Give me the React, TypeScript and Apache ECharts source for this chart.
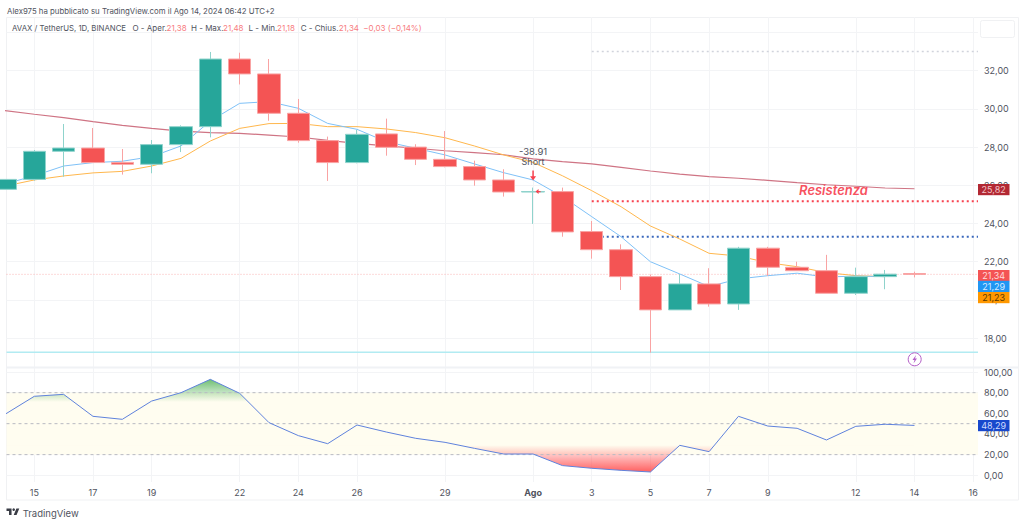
import React, { useEffect, useRef } from "react";
import * as echarts from "echarts";

const FONT = "Inter, 'Liberation Sans', sans-serif";
const RED = "#f45454";
const GREEN = "#26a69a";

// day offsets: 0 = 15 Jul
const days = [-1,0,1,2,3,4,5,6,7,8,9,10,11,12,13,14,15,16,17,18,19,20,21,22,23,24,25,26,27,28,29,30];
const open = [25.79,26.31,27.78,27.95,27.2,27.1,28.13,29.07,32.61,31.83,29.77,28.34,27.19,28.69,28.0,27.36,26.98,26.28,25.65,25.67,23.58,22.63,21.22,19.48,20.84,19.79,22.71,21.71,21.53,20.35,21.22,21.38];
const close = [26.31,27.78,27.95,27.19,27.1,28.13,29.07,32.61,31.83,29.77,28.34,27.19,28.67,27.99,27.36,26.98,26.28,25.65,25.67,23.56,22.63,21.22,19.48,20.84,19.79,22.71,21.71,21.53,20.35,21.22,21.35,21.34];
const low = [25.79,26.24,26.45,27.19,26.56,26.63,27.74,28.51,31.28,29.38,28.23,26.23,27.15,27.55,27.06,26.94,25.98,25.41,23.98,23.31,22.16,20.52,17.24,19.48,19.65,19.48,21.26,21.53,20.35,20.26,20.56,21.18];
const high = [26.31,27.85,29.21,29.0,27.9,28.37,29.14,32.98,32.94,32.61,30.52,28.55,28.9,29.49,28.15,28.84,27.29,26.84,25.88,25.88,24.13,22.91,21.33,21.36,21.66,22.78,22.78,22.0,22.36,21.69,21.57,21.48];

const emaFast = [26.07,26.5,27.01,27.19,27.26,27.5,28.06,29.37,30.29,30.38,30.03,29.24,28.93,28.28,27.94,27.59,27.12,26.66,26.28,25.41,24.36,23.31,22.0,21.36,20.7,21.1,21.27,21.4,21.2,21.25,21.22];
const emaSlow = [25.96,26.28,26.49,26.65,26.73,27.01,27.41,28.32,28.98,29.23,29.24,29.07,29.07,28.95,28.76,28.49,28.06,27.59,27.2,26.5,25.72,24.88,23.87,23.19,22.44,22.3,21.95,21.74,21.43,21.27,21.22];
const maLong = [29.91,29.72,29.54,29.33,29.14,28.98,28.84,28.76,28.72,28.63,28.53,28.35,28.2,28.06,27.94,27.81,27.71,27.6,27.38,27.24,27.12,26.94,26.75,26.59,26.45,26.37,26.26,26.14,26.03,25.95,25.86,25.82];
const rsi = [59,76.5,78.4,57.1,54.2,71.9,80,92.9,79.4,51,38.4,30.6,48.7,41.9,35.8,31.9,26.1,20.6,20.6,9.4,6.8,4.8,3.2,29,22.9,57.1,47.7,45.5,34.2,47.4,49.4,48.29];

const xTickDays = [0,2,4,7,9,11,14,17,19,21,23,25,28,30,32];
const xTickLabels = ["15","17","19","22","24","26","29","Ago","3","5","7","9","12","14","16"];
const priceLabels = [18,20,22,24,26,28,30,32];
const priceGrid = [18,20,22,24,26,28,30,32,34];
const rsiLabels = [0,20,40,60,80,100];

const X_MIN = -0.9475;
const X_MAX = 32.165;

const lowSupport = 17.26;
const greyLevel = 33.01;
const redLevel = 25.17;
const blueLevel = 23.31;
const lastPrice = 21.34;
const levelStart = 19;
const rsiBands = [80, 50, 20];

const pair = (vals: number[]) => vals.map((v, i) => [days[i], v]);
const comma = (v: number) => v.toFixed(2).replace(".", ",");

const ARROW_DOWN = "path://M4 0h2v7h3l-4 5-4-5h3z";
const ARROW_LEFT = "path://M0 4l6-4v3h4v2H6v3z";

function level(name: string, y: number, from: number, color: string, width: number, dash: any, z: number) {
  return {
    type: "line", name, data: [[from, y],[X_MAX, y]], showSymbol: false, silent: true, z,
    lineStyle: { color, width, type: dash },
  };
}
function ma(name: string, vals: number[], color: string, width: number) {
  return { type: "line", name, data: pair(vals), showSymbol: false, silent: true, z: 2, lineStyle: { color, width } };
}
function bandLine(v: number) {
  return { type: "line", xAxisIndex: 1, yAxisIndex: 1, data: [[X_MIN, v],[X_MAX, v]], showSymbol: false, silent: true, z: 3,
    lineStyle: { color: "#b8bac2", width: 1, type: [3, 3] } };
}
function txt(x: number, y: number, text: string, fill: string, extra: any = {}) {
  return { type: "text", x, y, silent: true, z: 20, style: { text, fill, font: `9px ${FONT}`, textVerticalAlign: "middle", ...extra } };
}
function tag(y: number, text: string, bg: string, fg: string) {
  return [
    { type: "rect", z: 30, silent: true, shape: { x: 978, y, width: 31.5, height: 11.2 }, style: { fill: bg } },
    { type: "text", z: 31, silent: true, x: 993.7, y: y + 5.8, style: { text, fill: fg, font: `9px ${FONT}`, textAlign: "center", textVerticalAlign: "middle" } },
  ];
}

echarts.graphic.registerShape("tvlogo", echarts.graphic.extendPath("M14 22H7V11H0V4h14v18zM28 22h-8l7.5-18h8L28 22z" as any, {}) as any);

export default function App() {
  const ref = useRef<HTMLDivElement>(null);
  useEffect(() => {
    document.body.style.margin = "0";
    const chart = echarts.init(ref.current!, undefined, { renderer: "svg", width: 1024, height: 524 });
    const gridLine = { show: true, lineStyle: { color: "#f3f4f6", width: 1 } };
    const xCommon = { type: "value", min: X_MIN, max: X_MAX, axisLine: { show: false } };
    const option: any = {
      animation: false,
      backgroundColor: "#ffffff",
      textStyle: { fontFamily: FONT },
      grid: [
        { left: 6.5, top: 17, width: 971.5, height: 350 },
        { left: 6.5, top: 368, width: 971.5, height: 114 },
      ],
      xAxis: [
        { ...xCommon, gridIndex: 0, axisLabel: { show: false, customValues: xTickDays }, axisTick: { show: false, customValues: xTickDays }, splitLine: gridLine },
        { ...xCommon, gridIndex: 1, splitLine: gridLine, axisTick: { show: false, customValues: xTickDays },
          axisLabel: { customValues: xTickDays, margin: 6, fontSize: 9, color: "#50535e", fontFamily: FONT,
            formatter: (v: number) => { const l = xTickLabels[xTickDays.indexOf(v)]; return l === "Ago" ? "{b|Ago}" : l; },
            rich: { b: { fontWeight: 700, fontSize: 9, color: "#50535e", fontFamily: FONT } } } },
      ],
      yAxis: [
        { type: "value", gridIndex: 0, position: "right", min: 16.49, max: 34.81, axisLine: { show: false }, splitLine: gridLine,
          axisTick: { show: false, customValues: priceGrid },
          axisLabel: { customValues: priceLabels, inside: false, margin: 6, fontSize: 9, color: "#50535e", fontFamily: FONT, formatter: comma } },
        { type: "value", gridIndex: 1, position: "right", min: -6.5, max: 103.9, axisLine: { show: false }, splitLine: gridLine,
          axisTick: { show: false, customValues: rsiLabels },
          axisLabel: { customValues: rsiLabels, margin: 6, fontSize: 9, color: "#50535e", fontFamily: FONT, formatter: comma } },
      ],
      series: [
        level("Current", lastPrice, X_MIN, "#f9b5b5", 1, [1, 2], 1),
        level("Support", lowSupport, X_MIN, "#b2ebf2", 1.5, "solid", 2),
        level("Grey level", greyLevel, levelStart, "#d1d4dc", 1.5, [2, 3], 2),
        level("Red level", redLevel, levelStart, "#f7424f", 2, [2, 3], 2),
        level("Blue level", blueLevel, levelStart, "#3a68bc", 2, [2, 3], 2),
        ma("EMA long", maLong, "#cf7484", 1.2),
        ma("EMA slow", emaSlow, "#ffb74d", 1),
        ma("EMA fast", emaFast, "#7fc1f7", 1),
        {
          type: "candlestick", name: "AVAX", z: 4, barWidth: 23, silent: true,
          encode: { x: 0, y: [1, 2, 3, 4] },
          data: days.map((d, i) => [d, open[i], close[i], low[i], high[i]]),
          itemStyle: { color: GREEN, color0: RED, borderColor: "#8fd3cc", borderColor0: "#f9a3a3", borderWidth: 1 },
        },
        {
          type: "line", name: "Annotations", showSymbol: false, silent: true, z: 6, data: [], 
          markPoint: {
            silent: true, animation: false,
            data: [
              { coord: [17, 26.52], symbol: ARROW_DOWN, symbolSize: [6, 10], itemStyle: { color: "#f7424f" }, label: { show: false } },
              { coord: [17.17, 25.67], symbol: ARROW_LEFT, symbolSize: [5, 5], itemStyle: { color: "#f7424f" }, label: { show: false } },
              { coord: [17, 27.75], symbol: "circle", symbolSize: 0, label: { show: true, position: "inside", formatter: "-38.91", fontSize: 9.5, color: "#50535e", fontFamily: FONT } },
              { coord: [17, 27.25], symbol: "circle", symbolSize: 0, label: { show: true, position: "inside", formatter: "Short", fontSize: 9, color: "#50535e", fontFamily: FONT } },
              { coord: [27.24, 25.73], symbol: "circle", symbolSize: 0, label: { show: true, position: "inside", formatter: "Resistenza", fontSize: 13, fontStyle: "italic", fontWeight: 600, color: "#f7525f", fontFamily: FONT } },
            ],
          },
        },
        {
          type: "line", name: "Band", xAxisIndex: 1, yAxisIndex: 1, data: [], showSymbol: false, silent: true, z: 1,
          markArea: { silent: true, itemStyle: { color: "#fffdf0" }, data: [[{ coord: [X_MIN, 80] }, { coord: [X_MAX, 20] }]] },
        },
        ...rsiBands.map(bandLine),
        {
          type: "line", name: "RSI over", xAxisIndex: 1, yAxisIndex: 1, data: pair(rsi), showSymbol: false, silent: true, z: 2,
          lineStyle: { width: 0, opacity: 0 },
          areaStyle: { origin: 70, opacity: 1, color: new echarts.graphic.LinearGradient(0, 378, 0, 402, [
            { offset: 0, color: "rgba(76,175,80,0.85)" }, { offset: 1, color: "rgba(76,175,80,0)" }], true) },
        },
        {
          type: "line", name: "RSI under", xAxisIndex: 1, yAxisIndex: 1, data: pair(rsi), showSymbol: false, silent: true, z: 2,
          lineStyle: { width: 0, opacity: 0 },
          areaStyle: { origin: 29, opacity: 1, color: new echarts.graphic.LinearGradient(0, 445, 0, 473, [
            { offset: 0, color: "rgba(255,82,82,0)" }, { offset: 1, color: "rgba(255,82,82,0.95)" }], true) },
        },
        {
          type: "line", name: "RSI", xAxisIndex: 1, yAxisIndex: 1, data: pair(rsi), showSymbol: false, silent: true, z: 4,
          lineStyle: { color: "#5f82dc", width: 1 },
        },
      ],
      graphic: [
        { type: "rect", z: 0, silent: true, shape: { x: 6.5, y: 17.5, width: 1012, height: 482.5 }, style: { fill: "none", stroke: "#f0f1f3", lineWidth: 1 } },
        { type: "line", z: 10, silent: true, shape: { x1: 6.5, y1: 367.5, x2: 1018, y2: 367.5 }, style: { stroke: "#f0f2f5", lineWidth: 2 } },
        txt(7, 10.5, "Alex975 ha pubblicato su TradingView.com il Ago 14, 2024 06:42 UTC+2", "#50535e", { font: `7.8px ${FONT}` }),
        txt(12, 28, "AVAX / TetherUS, 1D, BINANCE", "#50535e", { font: `7.8px ${FONT}` }),
        txt(132.5, 28, "O - Aper.", "#50535e", { font: `8px ${FONT}` }),
        txt(166.5, 28, "21,38", "#f77c80", { font: `8px ${FONT}` }),
        txt(191, 28, "H - Max.", "#50535e", { font: `8px ${FONT}` }),
        txt(223, 28, "21,48", "#f77c80", { font: `8px ${FONT}` }),
        txt(248.5, 28, "L - Min.", "#50535e", { font: `8px ${FONT}` }),
        txt(277, 28, "21,18", "#f77c80", { font: `8px ${FONT}` }),
        txt(300.7, 28, "C - Chius.", "#50535e", { font: `8px ${FONT}` }),
        txt(338.7, 28, "21,34", "#f77c80", { font: `8px ${FONT}` }),
        txt(363.3, 28, "−0,03 (−0,14%)", "#f77c80", { font: `8px ${FONT}` }),
        { type: "rect", z: 25, silent: true, shape: { x: 980.5, y: 20.5, width: 34, height: 17, r: 2 }, style: { fill: "#fff", stroke: "#f0f1f3", lineWidth: 1 } },
        txt(997.5, 29, "USDT", "#50535e", { textAlign: "center", z: 26, font: `8px ${FONT}` }),
        ...tag(184, "25,82", "#b22833", "#f3c3c6"),
        ...tag(270, "21,34", RED, "#ffdcdc"),
        ...tag(280.8, "21,29", "#2196f3", "#d6ecff"),
        ...tag(292, "21,23", "#ff9800", "#5c3800"),
        ...tag(420, "48,29", "#1848cc", "#d0dcff"),
        { type: "circle", z: 20, silent: true, shape: { cx: 914.7, cy: 359.3, r: 6.5 }, style: { fill: "#fff", stroke: "#b45fc8", lineWidth: 1 } },
        { type: "polygon", z: 21, silent: true, shape: { points: [[916, 355],[912.5, 360],[914.5, 360],[913.5, 363.5],[917, 358.5],[915, 358.5]] }, style: { fill: "#b45fc8" } },
        { type: "tvlogo", z: 20, silent: true, x: 6.5, y: 507, scaleX: 0.36, scaleY: 0.36, style: { fill: "#3a3d46" } },
        { type: "circle", z: 20, silent: true, shape: { cx: 13.7, cy: 509.6, r: 1.3 }, style: { fill: "#3a3d46" } },
        txt(22.7, 513, "TradingView", "#50535e", { font: `9.5px ${FONT}` }),
      ],
    };
    chart.setOption(option);
    return () => chart.dispose();
  }, []);
  return <div ref={ref} style={{ width: 1024, height: 524 }} />;
}
